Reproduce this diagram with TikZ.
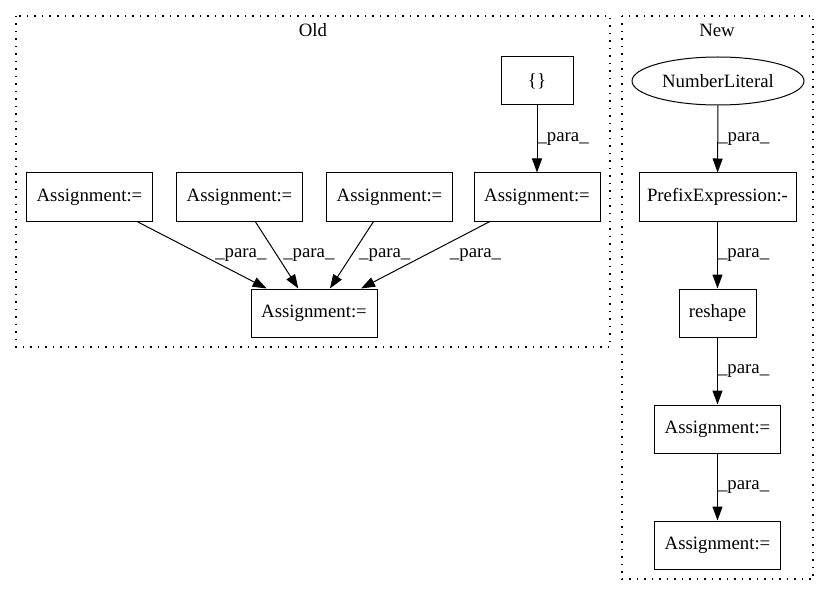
\documentclass[tikz,border=0pt]{standalone}
\usepackage{fontspec}
\setmainfont{Liberation Serif}
\usetikzlibrary{arrows.meta, positioning, shapes.geometric}

\tikzset{
  txt/.style={font=\fontsize{18.8}{21}\selectfont},
  stmt/.style={txt, draw, rectangle, line width=1pt, minimum height=48pt, inner sep=0pt},
  lit/.style={txt, draw, ellipse, line width=1pt, minimum width=172pt, minimum height=48pt, inner sep=0pt},
  para/.style={-{Triangle[length=14pt,width=10pt]}, line width=1pt},
  lbl/.style={txt, inner sep=0pt, anchor=west},
  cluster/.style={draw, line width=1.2pt, dash pattern=on 1.5pt off 6pt},
}

\begin{document}
\begin{tikzpicture}[x=1pt, y=-1pt]
    \useasboundingbox (0,0) rectangle (829,596);

    % Clusters
    \draw[cluster] (16,16) rectangle (610,347);
    \node[txt] (oldTitle) at (313,30) {Old};
    \draw[cluster] (622,16) rectangle (813,579);
    \node[txt] (newTitle) at (717,30) {New};

    % Old
    \node[stmt, minimum width=72pt] (braces) at (537,81) {\{\}};
    \node[stmt, minimum width=126pt] (asgA) at (89.5,197) {Assignment:=};
    \node[stmt, minimum width=126pt] (asgB) at (239.5,197) {Assignment:=};
    \node[stmt, minimum width=126pt] (asgC) at (389.5,197) {Assignment:=};
    \node[stmt, minimum width=126pt] (asgD) at (537,197) {Assignment:=};
    \node[stmt, minimum width=126pt] (asgOld) at (314,313) {Assignment:=};

    \draw[para] (braces) -- (asgD) node[lbl, midway] {\_para\_};
    \draw[para] (asgA) -- (asgOld) node[lbl, midway, xshift=13pt] {\_para\_};
    \draw[para] (asgB) -- (asgOld) node[lbl, midway, xshift=6pt] {\_para\_};
    \draw[para] (asgC) -- (asgOld) node[lbl, midway, xshift=7pt] {\_para\_};
    \draw[para] (asgD) -- (asgOld) node[lbl, midway, xshift=24pt] {\_para\_};

    % New
    \node[lit] (numLit) at (718,81) {NumberLiteral};
    \node[stmt, minimum width=157pt] (prefix) at (717.5,197) {PrefixExpression:-};
    \node[stmt, minimum width=77pt] (reshape) at (717.5,313) {reshape};
    \node[stmt, minimum width=126pt] (asgNew) at (717.5,429) {Assignment:=};
    \node[stmt, minimum width=126pt] (asgLast) at (717.5,545) {Assignment:=};

    \draw[para] (numLit) -- (prefix) node[lbl, midway] {\_para\_};
    \draw[para] (prefix) -- (reshape) node[lbl, midway] {\_para\_};
    \draw[para] (reshape) -- (asgNew) node[lbl, midway] {\_para\_};
    \draw[para] (asgNew) -- (asgLast) node[lbl, midway] {\_para\_};
\end{tikzpicture}
\end{document}
